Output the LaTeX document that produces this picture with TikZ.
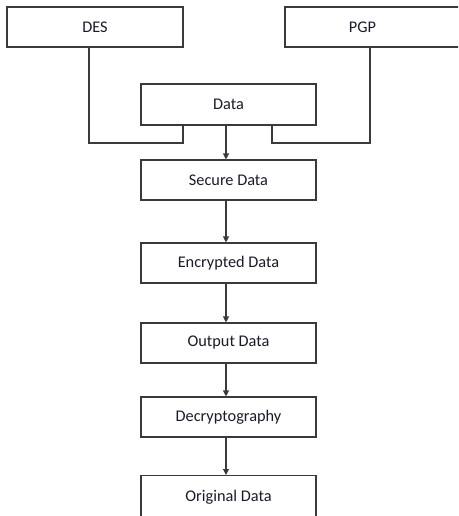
\documentclass[tikz,border=0pt]{standalone}
\usepackage{fontspec}
\setmainfont{Carlito}
\usetikzlibrary{arrows.meta}
\definecolor{linegray}{HTML}{3A3A3A}
\definecolor{textcol}{HTML}{1A1A2A}
\begin{document}
\begin{tikzpicture}[x=1pt,y=-1pt,
  box/.style={draw=linegray, line width=1.1pt, rectangle, minimum width=175pt, minimum height=40pt, inner sep=0pt, text=textcol, font=\fontsize{16.3}{19}\selectfont},
  conn/.style={draw=linegray, line width=1.1pt},
  arr/.style={conn, -{Triangle[width=6pt,length=6pt]}}]
\useasboundingbox (0,0) rectangle (458,516);
\clip (0,0) rectangle (458,516);
\node[box, minimum width=176pt] (des) at (95,27) {DES};
\node[box, minimum width=185pt] (pgp) at (377.5,27) {\hspace{-30pt}PGP};
\node[box, minimum height=41pt] (data) at (228.5,104.5) {Data};
\node[box] (secure) at (228.5,180) {Secure Data};
\node[box] (enc) at (228.5,263) {Encrypted Data};
\node[box] (out) at (228.5,343) {Output Data};
\node[box] (dec) at (228.5,417) {Decryptography};
\node[box, anchor=north, minimum height=0pt, inner ysep=2pt, text height=24pt, text depth=40pt] (orig) at (228.5,475) {Original Data};
\coordinate (dl) at (183,143);
\coordinate (pr) at (272,143);
\draw[conn] ([xshift=-6pt]des.south) |- (dl) -- (dl |- data.south);
\draw[conn] ([xshift=-7.5pt]pgp.south) |- (pr) -- (pr |- data.south);
\draw[arr] ([xshift=-2.5pt]data.south) -- ([xshift=-2.5pt]secure.north);
\draw[arr] ([xshift=-2.5pt]secure.south) -- ([xshift=-2.5pt]enc.north);
\draw[arr] ([xshift=-2.5pt]enc.south) -- ([xshift=-2.5pt]out.north);
\draw[arr] ([xshift=-2.5pt]out.south) -- ([xshift=-2.5pt]dec.north);
\draw[arr] ([xshift=-2.5pt]dec.south) -- ([xshift=-2.5pt]orig.north);
\end{tikzpicture}
\end{document}
